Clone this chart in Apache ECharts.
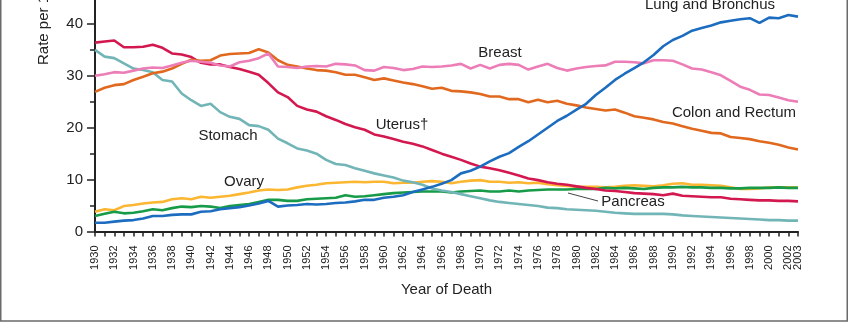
<!DOCTYPE html>
<html>
<head>
<meta charset="utf-8">
<script src="https://cdn.jsdelivr.net/npm/echarts@6/dist/echarts.min.js"></script>
<style>
html,body{margin:0;padding:0;background:#fff;}
#chart{width:850px;height:324px;}
</style>
</head>
<body>
<div id="chart"></div>
<script>
const years = ['1930','1931','1932','1933','1934','1935','1936','1937','1938','1939',
'1940','1941','1942','1943','1944','1945','1946','1947','1948','1949',
'1950','1951','1952','1953','1954','1955','1956','1957','1958','1959',
'1960','1961','1962','1963','1964','1965','1966','1967','1968','1969',
'1970','1971','1972','1973','1974','1975','1976','1977','1978','1979',
'1980','1981','1982','1983','1984','1985','1986','1987','1988','1989',
'1990','1991','1992','1993','1994','1995','1996','1997','1998','1999',
'2000','2001','2002','2003'];

const xTickLabels = ['1930','1932','1934','1936','1938','1940','1942','1944','1946','1948',
'1950','1952','1954','1956','1958','1960','1962','1964','1966','1968','1970','1972','1974',
'1976','1978','1980','1982','1984','1986','1988','1990','1992','1994','1996','1998','2000',
'2002','2003'];

const lung = [1.7,1.7,1.9,2.1,2.2,2.5,3.0,3.0,3.2,3.3,
3.3,3.8,3.9,4.3,4.5,4.7,5.0,5.4,5.9,4.8,
5.0,5.1,5.3,5.2,5.3,5.5,5.6,5.8,6.1,6.1,
6.5,6.7,7.0,7.6,8.1,8.6,9.2,9.9,11.2,11.7,
12.5,13.5,14.4,15.1,16.3,17.4,18.7,20.0,21.3,22.3,
23.5,24.6,26.3,27.7,29.2,30.4,31.5,32.6,34.0,35.7,
36.9,37.7,38.7,39.2,39.7,40.3,40.6,40.9,41.1,40.2,
41.2,41.1,41.7,41.4];

const breast = [30.0,30.3,30.7,30.6,31.0,31.4,31.6,31.5,32.0,32.5,
32.9,32.7,32.5,32.0,31.8,32.6,32.9,33.4,34.3,31.8,
31.7,31.5,31.8,31.9,31.8,32.3,32.2,32.0,31.1,31.0,
31.7,31.5,31.1,31.3,31.8,31.7,31.8,32.0,32.3,31.4,
32.1,31.4,32.1,32.3,32.1,31.2,31.8,32.3,31.5,31.0,
31.4,31.7,31.9,32.0,32.7,32.7,32.6,32.4,33.0,33.0,
32.9,32.2,31.4,31.2,30.7,30.1,29.0,27.9,27.3,26.4,
26.3,25.8,25.3,25.0];

const colonRectum = [26.9,27.7,28.2,28.4,29.2,29.8,30.5,30.8,31.4,32.3,
33.1,32.9,33.0,33.9,34.2,34.3,34.4,35.1,34.5,33.0,
32.1,31.8,31.4,31.1,31.0,30.7,30.2,30.2,29.7,29.2,
29.5,29.1,28.7,28.4,28.0,27.5,27.7,27.1,27.0,26.8,
26.5,26.0,26.0,25.5,25.5,24.9,25.4,24.9,25.2,24.6,
24.3,23.9,23.6,23.3,23.5,22.9,22.2,21.9,21.6,21.1,
20.8,20.3,19.8,19.4,19.0,18.9,18.2,18.0,17.8,17.4,
17.1,16.7,16.2,15.8];

const uterus = [36.4,36.6,36.8,35.5,35.5,35.6,36.0,35.4,34.3,34.1,
33.6,32.5,32.2,32.2,31.7,31.3,30.8,30.2,28.6,26.8,
25.9,24.2,23.5,23.1,22.2,21.5,20.7,20.1,19.6,18.7,
18.3,17.8,17.3,16.9,16.4,15.7,15.0,14.4,13.8,13.1,
12.5,12.2,11.8,11.3,10.8,10.2,9.9,9.5,9.2,9.0,
8.7,8.4,8.2,7.9,7.8,7.6,7.4,7.3,7.2,7.0,
7.3,6.9,6.8,6.7,6.6,6.6,6.3,6.2,6.1,6.0,
6.0,5.9,5.9,5.8];

const stomach = [35.0,33.7,33.4,32.4,31.4,31.1,30.7,29.2,28.9,26.6,
25.3,24.2,24.6,23.0,22.1,21.7,20.5,20.3,19.6,17.9,
17.0,16.0,15.6,15.0,13.8,13.0,12.8,12.2,11.7,11.2,
10.8,10.4,9.8,9.5,9.0,8.3,7.9,7.6,7.2,6.8,
6.4,6.0,5.7,5.5,5.3,5.1,4.9,4.6,4.5,4.3,
4.2,4.1,4.0,3.8,3.6,3.5,3.4,3.4,3.4,3.4,
3.3,3.1,3.0,2.9,2.8,2.7,2.6,2.5,2.4,2.3,
2.2,2.2,2.1,2.1];

const ovary = [3.8,4.3,4.1,4.9,5.1,5.4,5.6,5.7,6.2,6.4,
6.2,6.7,6.5,6.7,6.9,7.2,7.5,7.9,8.1,8.0,
8.1,8.5,8.8,9.0,9.3,9.4,9.5,9.6,9.5,9.6,
9.6,9.3,9.4,9.4,9.6,9.7,9.6,9.3,9.6,9.8,
9.9,9.6,9.6,9.4,9.5,9.3,9.4,9.1,8.9,8.8,
8.6,8.6,8.6,8.5,8.6,8.8,8.9,8.8,8.7,8.9,
9.2,9.3,9.0,9.0,8.9,8.8,8.5,8.2,8.2,8.3,
8.5,8.5,8.5,8.5];

const pancreas = [3.0,3.4,3.8,3.5,3.6,3.9,4.3,4.1,4.5,4.8,
4.7,4.9,4.8,4.5,4.9,5.1,5.3,5.7,6.1,6.1,
5.9,5.9,6.2,6.3,6.4,6.5,7.0,6.7,6.8,7.0,
7.2,7.4,7.5,7.6,7.7,7.7,7.7,7.5,7.7,7.8,
7.9,7.7,7.7,7.9,7.7,7.9,8.0,8.1,8.1,8.1,
8.2,8.2,8.2,8.4,8.3,8.4,8.3,8.2,8.4,8.5,
8.5,8.6,8.5,8.5,8.4,8.4,8.3,8.3,8.4,8.4,
8.4,8.5,8.4,8.4];

const chart = echarts.init(document.getElementById('chart'), null, {renderer:'canvas'});

function line(name, data, color) {
  return {
    name: name, type: 'line', data: data, showSymbol: false, symbol: 'none',
    lineStyle: {color: color, width: 2.6}, itemStyle: {color: color},
    emphasis: {disabled: true}, animation: false
  };
}

const font = 'Arial, "Liberation Sans", Helvetica, sans-serif';

function lbl(text, x, y) {
  return {type: 'text', x: x, y: y, style: {text: text, fill: '#222', font: '15px ' + font, align: 'center', verticalAlign: 'middle'}};
}

chart.setOption({
  animation: false,
  backgroundColor: '#fff',
  grid: {left: 95, right: 52, top: -28, bottom: 92.5, containLabel: false, outerBoundsMode: 'none'},
  xAxis: {
    type: 'category', data: years, boundaryGap: false,
    name: 'Year of Death', nameLocation: 'middle', nameGap: 51,
    nameTextStyle: {fontSize: 15, color: '#222', fontFamily: font},
    axisLine: {lineStyle: {color: '#222', width: 2}},
    axisTick: {show: true, interval: 0, length: 5, lineStyle: {color: '#222', width: 1.5}},
    axisLabel: {
      interval: 0,
      formatter: function (v) { return xTickLabels.indexOf(v) >= 0 ? v : ''; },
      rotate: 90, margin: 14, fontSize: 11, color: '#222', fontFamily: font,
      hideOverlap: false
    },
    splitLine: {show: false}
  },
  yAxis: {
    type: 'value', min: 0, max: 50, interval: 10,
    axisLine: {show: true, lineStyle: {color: '#222', width: 2}},
    axisTick: {show: true, length: 8, lineStyle: {color: '#222', width: 1.5}},
    minorTick: {show: true, splitNumber: 2, length: 5, lineStyle: {color: '#222', width: 1.5}},
    axisLabel: {margin: 12, fontSize: 15, color: '#222', fontFamily: font},
    splitLine: {show: false}
  },
  series: [
    line('Ovary', ovary, '#fbb632'),
    line('Pancreas', pancreas, '#179b49'),
    line('Stomach', stomach, '#72b5b7'),
    line('Uterus†', uterus, '#d3184f'),
    line('Colon and Rectum', colonRectum, '#e0691f'),
    line('Breast', breast, '#ec7db7'),
    line('Lung and Bronchus', lung, '#1c6dbf')
  ],
  graphic: [
    {type: 'rect', shape: {x: 0.75, y: -10, width: 846.5, height: 331}, style: {fill: 'none', stroke: '#6a6a6a', lineWidth: 1.5}, silent: true},
    {type: 'text', x: 44, y: 65, rotation: Math.PI / 2, style: {text: 'Rate per 100,000', fill: '#222', font: '15px ' + font, align: 'left', verticalAlign: 'middle'}},
    lbl('Lung and Bronchus', 710, 5),
    lbl('Breast', 500, 53),
    lbl('Colon and Rectum', 734, 113),
    lbl('Uterus†', 402, 125),
    lbl('Stomach', 228, 136),
    lbl('Ovary', 244, 182),
    lbl('Pancreas', 633, 202),
    {type: 'line', shape: {x1: 568, y1: 193, x2: 598, y2: 201}, style: {stroke: '#444', lineWidth: 1}}
  ]
});
</script>
</body>
</html>
